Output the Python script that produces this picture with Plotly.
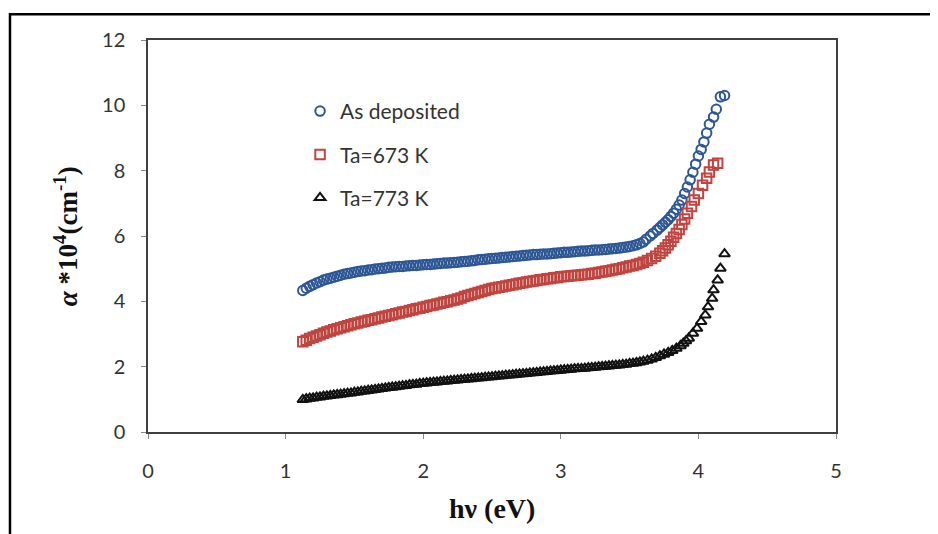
import plotly.graph_objects as go

# Shared photon-energy grid (eV) for the dense part of all three curves
hv_grid = [1.125, 1.15, 1.175, 1.2, 1.225, 1.25, 1.275, 1.3, 1.325, 1.35,
           1.375, 1.4, 1.425, 1.45, 1.475, 1.5, 1.525, 1.55, 1.575, 1.6,
           1.625, 1.65, 1.675, 1.7, 1.725, 1.75, 1.775, 1.8, 1.825, 1.85,
           1.875, 1.9, 1.925, 1.95, 1.975, 2.0, 2.025, 2.05, 2.075, 2.1,
           2.125, 2.15, 2.175, 2.2, 2.225, 2.25, 2.275, 2.3, 2.325, 2.35,
           2.375, 2.4, 2.425, 2.45, 2.475, 2.5, 2.525, 2.55, 2.575, 2.6,
           2.625, 2.65, 2.675, 2.7, 2.725, 2.75, 2.775, 2.8, 2.825, 2.85,
           2.875, 2.9, 2.925, 2.95, 2.975, 3.0, 3.025, 3.05, 3.075, 3.1,
           3.125, 3.15, 3.175, 3.2, 3.225, 3.25, 3.275, 3.3, 3.325, 3.35,
           3.375, 3.4, 3.425, 3.45, 3.475, 3.5, 3.525, 3.55, 3.575, 3.6]

# As deposited
asdep_grid = [4.33, 4.40, 4.46, 4.51, 4.56, 4.60, 4.65, 4.68, 4.71, 4.74,
              4.77, 4.80, 4.83, 4.85, 4.87, 4.89, 4.91, 4.93, 4.94, 4.96,
              4.97, 4.99, 5.00, 5.01, 5.02, 5.04, 5.05, 5.06, 5.07, 5.07,
              5.08, 5.09, 5.10, 5.10, 5.11, 5.12, 5.13, 5.13, 5.14, 5.15,
              5.16, 5.17, 5.17, 5.18, 5.19, 5.20, 5.21, 5.22, 5.23, 5.24,
              5.25, 5.27, 5.28, 5.29, 5.30, 5.31, 5.32, 5.33, 5.34, 5.35,
              5.36, 5.37, 5.38, 5.39, 5.40, 5.41, 5.42, 5.43, 5.43, 5.44,
              5.45, 5.45, 5.46, 5.47, 5.48, 5.49, 5.50, 5.50, 5.51, 5.52,
              5.53, 5.54, 5.54, 5.55, 5.56, 5.57, 5.57, 5.58, 5.59, 5.60,
              5.61, 5.62, 5.63, 5.65, 5.66, 5.68, 5.70, 5.73, 5.77, 5.82]
asdep_tail_hv = [3.62, 3.65, 3.67, 3.7, 3.72, 3.74, 3.76, 3.78, 3.8, 3.82,
                 3.84, 3.86, 3.88, 3.9, 3.92, 3.94, 3.96, 3.98, 4.0, 4.02,
                 4.04, 4.06, 4.08, 4.11, 4.13, 4.16, 4.19]
asdep_tail = [5.90, 6.00, 6.08, 6.18, 6.26, 6.34, 6.42, 6.50, 6.60, 6.70,
              6.82, 6.95, 7.10, 7.30, 7.50, 7.72, 7.95, 8.20, 8.45, 8.65,
              8.88, 9.15, 9.42, 9.64, 9.88, 10.26, 10.30]

# Ta = 673 K
ta673_grid = [2.76, 2.81, 2.86, 2.90, 2.94, 2.98, 3.02, 3.06, 3.09, 3.13,
              3.16, 3.19, 3.22, 3.25, 3.28, 3.31, 3.34, 3.37, 3.39, 3.42,
              3.44, 3.47, 3.49, 3.52, 3.54, 3.57, 3.59, 3.62, 3.64, 3.67,
              3.69, 3.72, 3.74, 3.77, 3.79, 3.82, 3.84, 3.87, 3.89, 3.92,
              3.94, 3.97, 3.99, 4.02, 4.04, 4.07, 4.10, 4.15, 4.18, 4.21,
              4.24, 4.27, 4.30, 4.33, 4.36, 4.39, 4.41, 4.43, 4.45, 4.47,
              4.49, 4.51, 4.53, 4.55, 4.57, 4.59, 4.61, 4.62, 4.64, 4.66,
              4.67, 4.69, 4.70, 4.72, 4.73, 4.75, 4.76, 4.77, 4.78, 4.79,
              4.80, 4.81, 4.82, 4.83, 4.85, 4.86, 4.88, 4.90, 4.92, 4.94,
              4.96, 4.98, 5.00, 5.03, 5.05, 5.08, 5.10, 5.13, 5.16, 5.20]
ta673_tail_hv = [3.63, 3.66, 3.69, 3.72, 3.74, 3.76, 3.78, 3.8, 3.82, 3.84,
                 3.86, 3.88, 3.9, 3.92, 3.95, 3.97, 4.0, 4.03, 4.06, 4.08,
                 4.11, 4.14]
ta673_tail = [5.25, 5.31, 5.38, 5.47, 5.55, 5.63, 5.73, 5.84, 5.96, 6.08,
              6.20, 6.35, 6.52, 6.70, 6.90, 7.10, 7.30, 7.55, 7.77, 7.96,
              8.17, 8.23]

# Ta = 773 K
ta773_grid = [0.99, 1.01, 1.03, 1.04, 1.06, 1.07, 1.09, 1.10, 1.11, 1.13,
              1.14, 1.15, 1.17, 1.18, 1.19, 1.21, 1.22, 1.24, 1.25, 1.27,
              1.28, 1.30, 1.31, 1.33, 1.34, 1.36, 1.37, 1.38, 1.40, 1.41,
              1.42, 1.44, 1.45, 1.46, 1.48, 1.49, 1.50, 1.51, 1.52, 1.53,
              1.54, 1.55, 1.56, 1.57, 1.58, 1.59, 1.60, 1.61, 1.62, 1.63,
              1.64, 1.65, 1.66, 1.67, 1.68, 1.69, 1.70, 1.71, 1.72, 1.73,
              1.74, 1.75, 1.76, 1.77, 1.78, 1.79, 1.80, 1.81, 1.82, 1.83,
              1.84, 1.85, 1.86, 1.87, 1.88, 1.89, 1.90, 1.91, 1.92, 1.93,
              1.94, 1.94, 1.95, 1.96, 1.97, 1.98, 1.99, 2.00, 2.01, 2.02,
              2.03, 2.04, 2.05, 2.06, 2.07, 2.09, 2.10, 2.12, 2.14, 2.16]
ta773_tail_hv = [3.63, 3.66, 3.69, 3.72, 3.75, 3.78, 3.81, 3.84, 3.87, 3.89,
                 3.91, 3.93, 3.96, 3.99, 4.02, 4.05, 4.07, 4.1, 4.11, 4.14,
                 4.16, 4.19]
ta773_tail = [2.19, 2.23, 2.28, 2.33, 2.38, 2.43, 2.49, 2.56, 2.64, 2.71,
              2.79, 2.87, 3.02, 3.17, 3.38, 3.58, 3.83, 4.09, 4.35, 4.65,
              5.01, 5.45]

series_names = ["As deposited", "Ta=673 K", "Ta=773 K"]
x_ticks = [0, 1, 2, 3, 4, 5]
y_ticks = [0, 2, 4, 6, 8, 10, 12]

series = [
    (series_names[0], hv_grid + asdep_tail_hv, asdep_grid + asdep_tail,
     "circle-open", "#2d5695"),
    (series_names[1], hv_grid + ta673_tail_hv, ta673_grid + ta673_tail,
     "square-open", "#c0443f"),
    (series_names[2], hv_grid + ta773_tail_hv, ta773_grid + ta773_tail,
     "triangle-up-open", "#111111"),
]

fig = go.Figure()
for i, (name, xs, ys, sym, col) in enumerate(series):
    fig.add_trace(go.Scatter(
        x=xs, y=ys, name=name, mode="markers", legendgroup=str(i),
        marker=dict(symbol=sym, size=9.5, color=col, line=dict(width=2, color=col)),
    ))

axis_common = dict(
    showgrid=False, zeroline=False, showline=True, mirror=True,
    linecolor="#404040", linewidth=1.5, ticks="outside", ticklen=5,
    tickcolor="#888888", tickwidth=1,
    tickfont=dict(family="Lato, Open Sans, sans-serif", size=20, color="#333333"),
)

# the page body has an 8 px margin, so the figure is shrunk by 8 px and
# the left/top margins reduced by 8 px to keep the plot where it belongs
fig.update_layout(
    width=930, height=526,
    margin=dict(l=140, r=102, t=32, b=102),
    paper_bgcolor="white", plot_bgcolor="white",
    showlegend=True,
    legend=dict(
        x=0.221, y=0.87, xanchor="left", yanchor="top",
        bgcolor="rgba(0,0,0,0)", itemwidth=30, tracegroupgap=13,
        font=dict(family="Lato, Open Sans, sans-serif", size=21, color="#333333"),
    ),
    xaxis=dict(range=[0, 5], tickvals=x_ticks, ticklabelstandoff=15, **axis_common),
    yaxis=dict(range=[0, 12], tickvals=y_ticks, ticklabelstandoff=12, **axis_common),
    annotations=[
        dict(text="<b><i>α</i> *10<sup>4</sup>(cm<sup>-1</sup>)</b>",
             xref="paper", yref="paper", x=-0.119, y=0.5, textangle=-90,
             showarrow=False, xanchor="center", yanchor="middle",
             font=dict(family="Liberation Serif, serif", size=27, color="#111111")),
        dict(text="<b>hν (eV)</b>",
             xref="paper", yref="paper", x=0.5, y=-0.194,
             showarrow=False, xanchor="center", yanchor="middle",
             font=dict(family="Liberation Serif, serif", size=28, color="#111111")),
    ],
    shapes=[
        dict(type="rect", xref="paper", yref="paper",
             x0=-0.2006, x1=1.16, y0=-0.29, y1=1.066,
             line=dict(color="#000000", width=2.5), layer="below"),
    ],
)

fig.write_html("out.html")
